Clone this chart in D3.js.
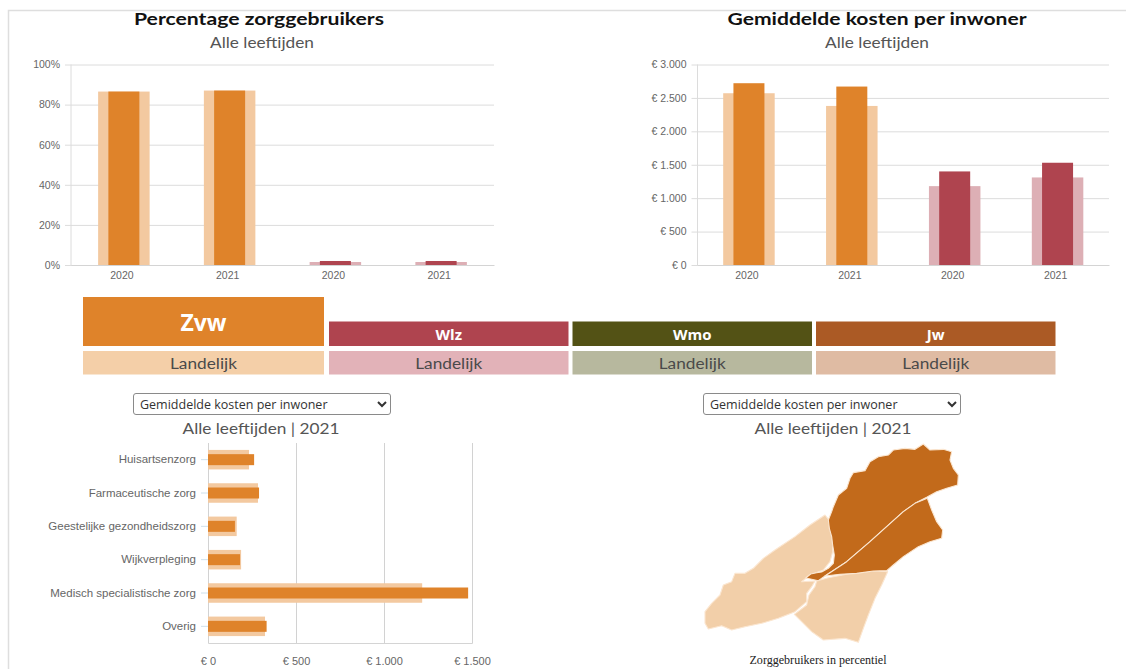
<!DOCTYPE html>
<html lang="nl">
<head>
<meta charset="utf-8">
<title>Zorggebruikers</title>
<script src="https://cdn.jsdelivr.net/npm/d3@7"></script>
<style>
html,body{margin:0;padding:0;background:#fff;overflow:hidden}
#wrap{position:relative;width:1126px;height:669px}
svg{position:absolute;left:0;top:0;font-family:Lato,"Open Sans",sans-serif}
select{position:absolute;top:393px;width:258px;height:22px;box-sizing:border-box;font:12.5px "Open Sans",sans-serif;color:#333;background:#fff;border:1px solid #8a8a8a;border-radius:3px;padding:0 2px}
.tick text{fill:#666}
</style>
</head>
<body>
<div id="wrap">
<svg id="chart" width="1126" height="669"></svg>
<select id="selLeft" style="left:133px"><option>Gemiddelde kosten per inwoner</option></select>
<select id="selRight" style="left:703px"><option>Gemiddelde kosten per inwoner</option></select>
</div>
<script>
// ---- data ----
const yearCategories = ["Zvw 2020","Zvw 2021","Wlz 2020","Wlz 2021"];
const yearLabels = ["2020","2021","2020","2021"];
const yearSchemes = ["Zvw","Zvw","Wlz","Wlz"];

const pctRegion = [86.5,87,2,2];
const pctNational = [86.5,87,1.5,1.5];
const pctTicks = [0,20,40,60,80,100];

const costRegion = [2720,2670,1400,1530];
const costNational = [2570,2380,1180,1310];
const costTicks = [0,500,1000,1500,2000,2500,3000];

const careCategories = ["Huisartsenzorg","Farmaceutische zorg","Geestelijke gezondheidszorg","Wijkverpleging","Medisch specialistische zorg","Overig"];
const careRegion = [262,290,153,182,1478,333];
const careNational = [233,284,163,188,1217,324];
const careTicks = [0,500,1000,1500];

const schemes = ["Zvw","Wlz","Wmo","Jw"];
const schemeLabel = "Landelijk";
const schemeDark = {Zvw:"#df832a",Wlz:"#af444f",Wmo:"#535215",Jw:"#ab5a25"};
const schemeLight = {Zvw:"#f4cfa8",Wlz:"#e2b2b8",Wmo:"#b7b89e",Jw:"#dfbba3"};
const barLight = {Zvw:"#f3c9a0",Wlz:"#ddafb5"};

// map regions in tracing units
const mapNorth = [[47,414],[62,402],[80,398],[95,396],[115,385],[130,370],[133,345],[128,315],[125,290],[118,265],[115,240],[125,215],[130,200],[145,165],[170,145],[180,115],[190,98],[225,92],[240,65],[265,50],[295,45],[310,30],[345,25],[375,28],[400,12],[420,30],[460,28],[485,35],[480,60],[490,85],[505,105],[503,135],[470,145],[440,155],[410,172],[375,190],[340,215],[290,260],[240,305],[170,365],[105,408],[85,422],[65,418]];
const mapEast = [[105,408],[170,365],[240,305],[290,260],[340,215],[375,190],[412,175],[425,210],[440,245],[458,270],[455,295],[420,305],[385,320],[340,350],[310,375],[290,392],[250,393],[200,400],[150,403]];
const mapWest = [[-255,515],[-235,490],[-210,465],[-200,435],[-175,425],[-165,400],[-135,400],[-110,385],[-80,355],[-45,330],[15,290],[60,255],[105,225],[117,240],[120,265],[127,295],[128,335],[120,365],[100,390],[60,405],[45,417],[35,425],[75,423],[65,440],[50,460],[50,485],[15,515],[-35,535],[-85,550],[-135,560],[-175,570],[-205,557],[-245,567],[-255,550]];
const mapSouth = [[80,423],[115,413],[185,400],[255,392],[293,395],[275,435],[255,475],[235,525],[220,565],[205,607],[165,595],[100,600],[65,575],[35,545],[13,523],[50,495],[57,465],[75,440]];
const mapRegions = [
  {points:mapWest,high:false},{points:mapSouth,high:false},
  {points:mapNorth,high:true},{points:mapEast,high:true}
];
const mapHigh = "#c26a1b", mapLow = "#f2cfa9";

// ---- helpers ----
const nl = d3.formatLocale({decimal:",",thousands:".",grouping:[3],currency:["€ ",""]});
const euro = v => "€ " + nl.format(",d")(v);
const svg = d3.select("#chart");
const GRID = "#dcdcdc", AXIS = "#d4d4d4";

function text(x,y,s,size,opts={}){
  const t = svg.append("text").attr("x",x).attr("y",y).attr("text-anchor","middle")
    .attr("dominant-baseline","central").attr("font-size",size)
    .attr("fill",opts.fill||"#555").attr("font-weight",opts.weight||400).text(s);
  if(opts.family) t.attr("font-family",opts.family);
  if(opts.len) t.attr("textLength",opts.len).attr("lengthAdjust","spacingAndGlyphs");
  return t;
}

// frame
svg.append("path").attr("d",d3.line()([[8.5,669],[8.5,10.5],[1126,10.5]])).attr("fill","none").attr("stroke","#dedede").attr("stroke-width",1.5);

// ---- vertical charts ----
function columnChart(cfg){
  const x = d3.scaleBand().domain(yearCategories).range([cfg.x0,cfg.x1]).paddingInner(0).paddingOuter(0);
  const y = d3.scaleLinear().domain(cfg.domain).range([265,64.5]);
  const g = svg.append("g");
  const yAxis = d3.axisLeft(y).tickValues(cfg.ticks).tickFormat(cfg.format).tickSize(cfg.x1-cfg.x0+6).tickPadding(5);
  const ya = g.append("g").attr("transform",`translate(${cfg.x1},0)`).call(yAxis);
  ya.select(".domain").remove();
  ya.selectAll("line").attr("stroke",GRID);
  ya.selectAll("text").attr("font-size",10.5).attr("fill","#666");
  g.append("line").attr("x1",cfg.x0).attr("x2",cfg.x0).attr("y1",64.5).attr("y2",265).attr("stroke",GRID);
  const xa = g.append("g").attr("transform","translate(0,265)").call(
    d3.axisBottom(x).tickSize(0).tickPadding(7).tickFormat((d,i)=>yearLabels[i]));
  xa.select(".domain").attr("stroke",AXIS);
  xa.selectAll("text").attr("font-size",10.5).attr("fill","#666").attr("dx",-2);
  const W = 51.5, N = 31;
  g.selectAll(".nat").data(cfg.national).join("rect")
    .attr("x",(d,i)=>x(yearCategories[i])+x.bandwidth()/2-W/2).attr("width",W)
    .attr("y",d=>y(d)).attr("height",d=>y(0)-y(d))
    .attr("fill",(d,i)=>barLight[yearSchemes[i]]);
  g.selectAll(".reg").data(cfg.region).join("rect")
    .attr("x",(d,i)=>x(yearCategories[i])+x.bandwidth()/2-N/2).attr("width",N)
    .attr("y",d=>y(d)).attr("height",d=>y(0)-y(d))
    .attr("fill",(d,i)=>schemeDark[yearSchemes[i]]);
}
columnChart({x0:71,x1:494,domain:[0,100],ticks:pctTicks,format:d=>d+"%",region:pctRegion,national:pctNational});
columnChart({x0:697.5,x1:1109,domain:[0,3000],ticks:costTicks,format:euro,region:costRegion,national:costNational});

text(259,18,"Percentage zorggebruikers",17,{weight:700,fill:"#111",len:250});
text(262,42,"Alle leeftijden",15,{len:104});
text(877,18,"Gemiddelde kosten per inwoner",17,{weight:700,fill:"#111",len:299});
text(877,42,"Alle leeftijden",15,{len:104});

// ---- scheme tabs ----
const tabX = d3.scaleOrdinal().domain(schemes).range([83,329,572.5,816]);
const tabW = d3.scaleOrdinal().domain(schemes).range([241,239.5,239.5,239.5]);
schemes.forEach(s=>{
  const top = s==="Zvw" ? 297 : 321.5;
  svg.append("rect").attr("x",tabX(s)).attr("y",top).attr("width",tabW(s)).attr("height",346-top).attr("fill",schemeDark[s]);
  svg.append("rect").attr("x",tabX(s)).attr("y",351).attr("width",tabW(s)).attr("height",23.5).attr("fill",schemeLight[s]);
  const cx = tabX(s)+tabW(s)/2;
  if(s==="Zvw") text(cx,322,s,23,{weight:700,fill:"#fff",family:"'Open Sans',sans-serif"});
  else text(cx,334,s,15,{weight:700,fill:"#fff",family:"'Open Sans',sans-serif"});
  text(cx,363,schemeLabel,14.5,{fill:"#4a4a4a",len:67});
});

// ---- horizontal chart ----
(function(){
  const x = d3.scaleLinear().domain([0,1500]).range([208,472]);
  const y = d3.scaleBand().domain(careCategories).range([443,643]);
  const g = svg.append("g");
  const xa = g.append("g").attr("transform","translate(0,643)").call(
    d3.axisBottom(x).tickValues(careTicks).tickFormat(euro).tickSize(-200).tickPadding(14));
  xa.select(".domain").attr("stroke",AXIS);
  xa.selectAll("line").attr("stroke","#d2d2d2");
  xa.selectAll("text").attr("font-size",11).attr("fill","#666");
  const ya = g.append("g").attr("transform","translate(208,0)").call(d3.axisLeft(y).tickSize(7).tickPadding(5));
  ya.select(".domain").remove();
  ya.selectAll("line").attr("stroke","#cfe0ea");
  ya.selectAll("text").attr("font-size",11.5).attr("fill","#666");
  const LH = 19.5, DH = 11;
  g.selectAll(".nat").data(careNational).join("rect")
    .attr("x",x(0)).attr("width",d=>x(d)-x(0))
    .attr("y",(d,i)=>y(careCategories[i])+y.bandwidth()/2-LH/2).attr("height",LH).attr("fill",barLight.Zvw);
  g.selectAll(".reg").data(careRegion).join("rect")
    .attr("x",x(0)).attr("width",d=>x(d)-x(0))
    .attr("y",(d,i)=>y(careCategories[i])+y.bandwidth()/2-DH/2).attr("height",DH).attr("fill",schemeDark.Zvw);
})();
text(261,427,"Alle leeftijden  |  2021",16,{len:157});
text(833,427,"Alle leeftijden  |  2021",16,{len:157});

// ---- map ----
(function(){
  const mx = d3.scaleLinear().domain([0,525]).range([790,965]);
  const my = d3.scaleLinear().domain([0,450]).range([440,590]);
  const path = d3.geoPath().projection(d3.geoTransform({point(a,b){this.stream.point(mx(a),my(b));}}));
  svg.append("g").selectAll("path").data(mapRegions).join("path")
    .attr("d",r=>path({type:"Polygon",coordinates:[[...r.points,r.points[0]]]}))
    .attr("fill",r=>r.high?mapHigh:mapLow)
    .attr("stroke","#fbe6d0").attr("stroke-width",1.1).attr("stroke-linejoin","round");
})();
text(818,660,"Zorggebruikers in percentiel",12.5,{fill:"#222",family:"'Liberation Serif',serif",len:137});
</script>
</body>
</html>
